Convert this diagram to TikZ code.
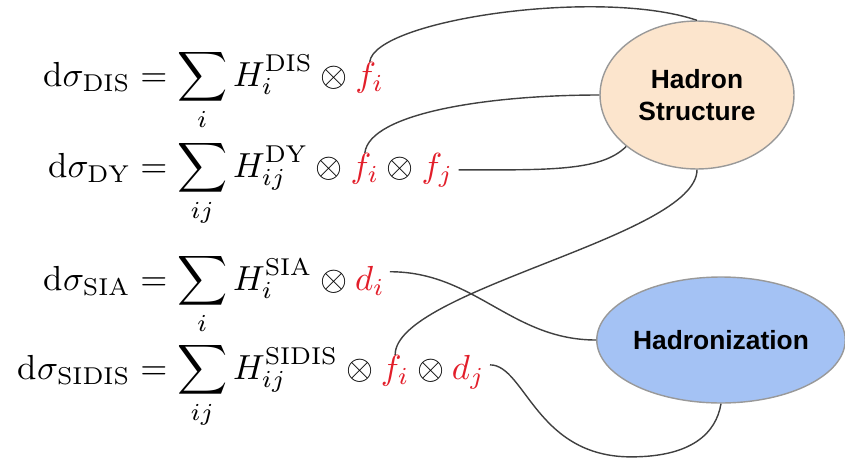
\documentclass[tikz,border=0pt]{standalone}
\usepackage{amsmath}
\usepackage{amssymb}
\usepackage{graphicx}
\usepackage{fontspec}
\newfontfamily\labelfont{Liberation Sans}
\usetikzlibrary{positioning,shapes.geometric}

\definecolor{pdfred}{RGB}{226,30,42}
\definecolor{peach}{RGB}{252,229,205}
\definecolor{skyblue}{RGB}{164,194,244}

% equations are set at 10pt and blown up, like a pasted formula image
\newcommand{\bigeq}[1]{\scalebox{1.98}{$\displaystyle #1$}}

\begin{document}
\begin{tikzpicture}[
  x=0.02cm, y=0.02cm,
  eqpart/.style={inner sep=0pt, outer sep=0pt},
  pdfpart/.style={eqpart, text=pdfred},
  blob/.style={ellipse, draw=black!40, line width=0.8pt, inner sep=0pt,
    font=\labelfont\bfseries\fontsize{15}{18}\selectfont, align=center},
  link/.style={draw=black!75, line width=0.8pt}
]
\useasboundingbox (0,0) rectangle (845,458);

% left-hand sides, aligned at the equals sign
\node[eqpart, anchor=base east] (dis) at (177,372) {\bigeq{\mathrm{d}\sigma_{\mathrm{DIS}} = {}}};
\node[eqpart, anchor=base west] (disH) at (dis.base east) {\bigeq{\sum_i H_i^{\mathrm{DIS}} \otimes {}}};
\node[pdfpart, anchor=base west] (disf) at (disH.base east) {\bigeq{f_i}};

\node[eqpart, anchor=base east] (dy) at (177,281) {\bigeq{\mathrm{d}\sigma_{\mathrm{DY}} = {}}};
\node[eqpart, anchor=base west] (dyH) at (dy.base east) {\bigeq{\sum_{ij} H_{ij}^{\mathrm{DY}} \otimes {}}};
\node[pdfpart, anchor=base west] (dyfi) at (dyH.base east) {\bigeq{f_i}};
\node[eqpart, anchor=base west] (dyo) at (dyfi.base east) {\bigeq{{}\otimes{}}};
\node[pdfpart, anchor=base west] (dyfj) at (dyo.base east) {\bigeq{f_j}};

\node[eqpart, anchor=base east] (sia) at (177,168) {\bigeq{\mathrm{d}\sigma_{\mathrm{SIA}} = {}}};
\node[eqpart, anchor=base west] (siaH) at (sia.base east) {\bigeq{\sum_i H_i^{\mathrm{SIA}} \otimes {}}};
\node[pdfpart, anchor=base west] (siad) at (siaH.base east) {\bigeq{d_i}};

\node[eqpart, anchor=base east] (sidis) at (177,79) {\bigeq{\mathrm{d}\sigma_{\mathrm{SIDIS}} = {}}};
\node[eqpart, anchor=base west] (sidisH) at (sidis.base east) {\bigeq{\sum_{ij} H_{ij}^{\mathrm{SIDIS}} \otimes {}}};
\node[pdfpart, anchor=base west] (sidisf) at (sidisH.base east) {\bigeq{f_i}};
\node[eqpart, anchor=base west] (sidiso) at (sidisf.base east) {\bigeq{{}\otimes{}}};
\node[pdfpart, anchor=base west] (sidisd) at (sidiso.base east) {\bigeq{d_j}};

% the two blobs
\node[blob, fill=peach, minimum width=3.88cm, minimum height=2.96cm] (hadron) at (697,363) {Hadron\\Structure};
\node[blob, fill=skyblue, minimum width=4.92cm, minimum height=2.52cm] (hadroniz) at (721,118) {Hadronization};

% connections
\draw[link] (disf.north) .. controls +(5,42) and +(-97,33) .. (hadron.north);
\draw[link] (dyfi.north) .. controls +(5,40) and +(-110,0) .. (hadron.west);
\draw[link] ([xshift=3pt]dyfj.east) .. controls +(90,0) and +(-25,-25) .. (hadron.216);
\draw[link] (sidisf.north) .. controls +(0,65) and +(0,-67) .. (hadron.south);
\draw[link] ([shift={(3pt,5pt)}]siad.east) to[out=0, in=180] (hadroniz.west);
\draw[link] ([shift={(3pt,4pt)}]sidisd.east) .. controls +(35,0) and +(-95,0) .. ++(141,-92)
  .. controls +(60,0) and +(-5,-30) .. (hadroniz.south);

\end{tikzpicture}
\end{document}
